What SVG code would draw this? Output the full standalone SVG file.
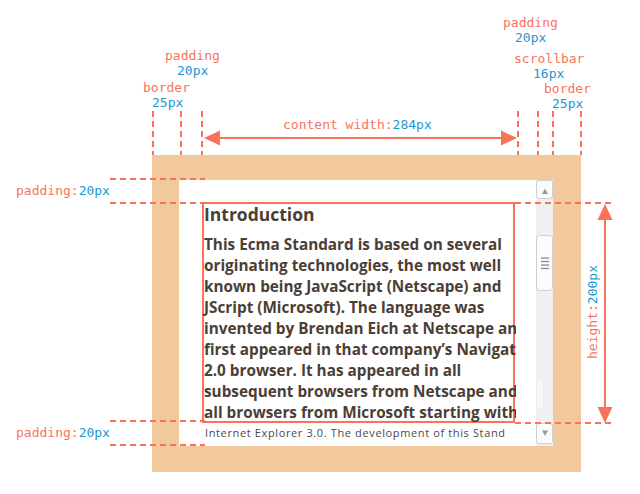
<svg xmlns="http://www.w3.org/2000/svg" width="640" height="494" viewBox="0 0 640 494">
<style>
.lbl{font-family:"DejaVu Sans Mono","Liberation Mono",monospace;font-size:13px;fill:#f7735c}
.val{fill:#1e96d2}
.dash{stroke:#f7735c;stroke-width:2;stroke-dasharray:6 4;fill:none}
.ln{stroke:#f7735c;stroke-width:2;fill:none}
.ah{fill:#f7735c}
.para{font-family:"Open Sans","Noto Sans",sans-serif;font-size:15.3px;font-weight:700;fill:#4b3e34}
.btn{fill:#fbfbfb;stroke:#cfcfcf;stroke-width:1}
.grip{stroke:#8a8a8a;stroke-width:1.3}
</style>
<defs>
<clipPath id="clip"><rect x="200" y="198" width="316" height="228"/></clipPath>
</defs>

<g id="box">
<rect x="152" y="155" width="429" height="317" fill="#f1c99c"/>
<rect x="179" y="180" width="374" height="266" fill="#ffffff"/>
</g>

<g id="scrollbar">
<rect x="536" y="180" width="17" height="266" fill="#f0f0f0"/>
<rect x="537" y="380" width="6" height="28" fill="#f7f7f7"/>
<rect class="btn" x="536.5" y="180.5" width="16" height="18" rx="2.5"/>
<polygon points="545,188.5 548,194 542,194" fill="#9a9a9a"/>
<rect class="btn" x="536.5" y="235.5" width="16" height="55" rx="3"/>
<line class="grip" x1="541" y1="258" x2="549" y2="258"/>
<line class="grip" x1="541" y1="261.5" x2="549" y2="261.5"/>
<line class="grip" x1="541" y1="265" x2="549" y2="265"/>
<line class="grip" x1="541" y1="268.5" x2="549" y2="268.5"/>
<rect class="btn" x="536.5" y="423.5" width="16" height="20" rx="2.5"/>
<polygon points="542,430.5 548,430.5 545,436" fill="#9a9a9a"/>
</g>

<g id="content">
<rect x="203" y="203" width="311" height="219" fill="none" stroke="#f7735c" stroke-width="2"/>
<g clip-path="url(#clip)">
<text x="204" y="221" font-family="'Open Sans','Noto Sans',sans-serif" font-size="17.5" font-weight="700" fill="#4b3e34">Introduction</text>
<text class="para" x="204" y="250">This Ecma Standard is based on several</text>
<text class="para" x="204" y="271">originating technologies, the most well</text>
<text class="para" x="204" y="292">known being JavaScript (Netscape) and</text>
<text class="para" x="204" y="313">JScript (Microsoft). The language was</text>
<text class="para" x="204" y="334">invented by Brendan Eich at Netscape and</text>
<text class="para" x="204" y="355">first appeared in that company’s Navigator</text>
<text class="para" x="204" y="376">2.0 browser. It has appeared in all</text>
<text class="para" x="204" y="397">subsequent browsers from Netscape and</text>
<text class="para" x="204" y="418">all browsers from Microsoft starting with</text>
</g>
<text x="205" y="437" font-family="'Open Sans','Noto Sans',sans-serif" font-size="11" fill="#4a4a4a" textLength="300">Internet Explorer 3.0. The development of this Stand</text>
</g>

<g id="connectors">
<line class="dash" x1="153" y1="111" x2="153" y2="155"/>
<line class="dash" x1="181" y1="111" x2="181" y2="155"/>
<line class="dash" x1="202" y1="111" x2="202" y2="155"/>
<line class="dash" x1="518" y1="111" x2="518" y2="155"/>
<line class="dash" x1="538" y1="111" x2="538" y2="155"/>
<line class="dash" x1="553" y1="111" x2="553" y2="155"/>
<line class="dash" x1="581" y1="111" x2="581" y2="155"/>
<line class="dash" x1="110" y1="179" x2="205" y2="179"/>
<line class="dash" x1="110" y1="203" x2="202" y2="203"/>
<line class="dash" x1="110" y1="421" x2="205" y2="421"/>
<line class="dash" x1="110" y1="445" x2="205" y2="445"/>
<line class="dash" x1="515" y1="203" x2="611" y2="203"/>
<line class="dash" x1="515" y1="423" x2="611" y2="423"/>
<line class="ln" x1="212" y1="138" x2="509" y2="138"/>
<polygon class="ah" points="204,138 220,130.5 220,145.5"/>
<polygon class="ah" points="517,138 501,130.5 501,145.5"/>
<line class="ln" x1="605" y1="212" x2="605" y2="414"/>
<polygon class="ah" points="605,204 597.5,220 612.5,220"/>
<polygon class="ah" points="605,423 597.5,407 612.5,407"/>
</g>

<g id="labels">
<text class="lbl" x="165" y="60">padding</text>
<text class="lbl val" x="177" y="75">20px</text>
<text class="lbl" x="143" y="92">border</text>
<text class="lbl val" x="152" y="107">25px</text>
<text class="lbl" x="283" y="129">content width:<tspan class="val">284px</tspan></text>
<text class="lbl" x="503" y="27">padding</text>
<text class="lbl val" x="515" y="42">20px</text>
<text class="lbl" x="514" y="63">scrollbar</text>
<text class="lbl val" x="533" y="78">16px</text>
<text class="lbl" x="544" y="93">border</text>
<text class="lbl val" x="552" y="108">25px</text>
<text class="lbl" x="16" y="195">padding:<tspan class="val">20px</tspan></text>
<text class="lbl" x="16" y="437">padding:<tspan class="val">20px</tspan></text>
<text class="lbl" transform="translate(597,312) rotate(-90)" text-anchor="middle">height:<tspan class="val">200px</tspan></text>
</g>
</svg>
